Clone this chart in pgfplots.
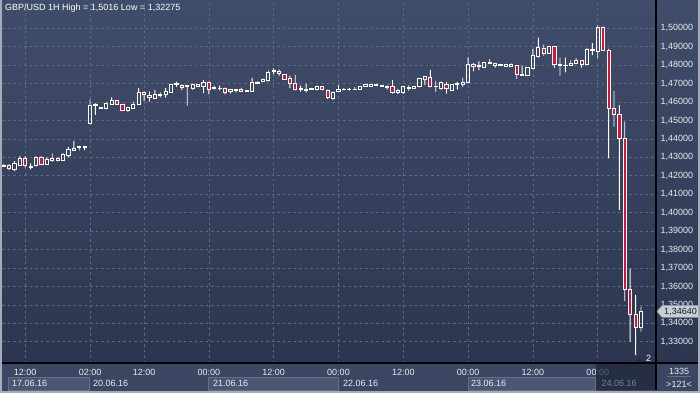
\documentclass[border=0pt]{standalone}
\usepackage{pgfplots}
\pgfplotsset{compat=1.18}
\usepackage{pgfplotstable}
\usepackage{fontspec}
\setmainfont{Liberation Sans}
\definecolor{bgtop}{RGB}{64,77,106}
\definecolor{bgbot}{RGB}{44,54,80}
\definecolor{strip}{RGB}{58,70,98}
\definecolor{gridc}{RGB}{92,105,135}
\definecolor{cred}{RGB}{222,18,48}
\definecolor{lbl}{RGB}{232,236,242}
\definecolor{datebox}{RGB}{74,86,114}
\definecolor{dateline}{RGB}{98,111,140}
\definecolor{framec}{RGB}{165,172,185}
\definecolor{tagc}{RGB}{200,205,214}
\definecolor{tagline}{RGB}{140,147,160}
\definecolor{tagtext}{RGB}{25,25,30}
\definecolor{shadec}{RGB}{30,37,55}
\definecolor{greytext}{RGB}{120,130,150}
\definecolor{tric}{RGB}{38,46,64}

\pgfplotstableread{
k O H L C
0 1.4253 1.4262 1.4248 1.4256
1 1.4257 1.4264 1.4231 1.4239
2 1.4237 1.4280 1.4225 1.4266
3 1.4258 1.4307 1.4255 1.4295
4 1.4295 1.4307 1.4245 1.4255
5 1.4248 1.4267 1.4235 1.4252
6 1.4255 1.4307 1.4250 1.4300
7 1.4300 1.4305 1.4258 1.4264
8 1.4264 1.4300 1.4258 1.4289
9 1.4282 1.4322 1.4275 1.4293
10 1.4295 1.4300 1.4278 1.4284
11 1.4282 1.4325 1.4282 1.4316
12 1.4313 1.4355 1.4300 1.4345
13 1.4338 1.4389 1.4336 1.4349
14 1.4352 1.4362 1.4338 1.4361
15 1.4356 1.4362 1.4340 1.4361
16 1.4485 1.4615 1.4480 1.4580
17 1.4582 1.4593 1.4530 1.4586
18 1.4565 1.4571 1.4562 1.4569
19 1.4563 1.4600 1.4560 1.4594
20 1.4589 1.4625 1.4586 1.4609
21 1.4609 1.4611 1.4586 1.4588
22 1.4588 1.4590 1.4551 1.4553
23 1.4557 1.4572 1.4548 1.4569
24 1.4566 1.4602 1.4563 1.4588
25 1.4588 1.4675 1.4584 1.4653
26 1.4653 1.4657 1.4606 1.4639
27 1.4637 1.4657 1.4602 1.4626
28 1.4620 1.4666 1.4617 1.4639
29 1.4635 1.4653 1.4624 1.4642
30 1.4642 1.4675 1.4624 1.4657
31 1.4653 1.4700 1.4651 1.4696
32 1.4693 1.4711 1.4682 1.4700
33 1.4689 1.4696 1.4666 1.4678
34 1.4682 1.4689 1.4581 1.4689
35 1.4675 1.4700 1.4667 1.4696
36 1.4696 1.4697 1.4686 1.4686
37 1.4686 1.4720 1.4648 1.4704
38 1.4707 1.4711 1.4642 1.4671
39 1.4675 1.4689 1.4667 1.4678
40 1.4673 1.4689 1.4664 1.4675
41 1.4675 1.4678 1.4642 1.4653
42 1.4660 1.4666 1.4646 1.4666
43 1.4662 1.4667 1.4653 1.4667
44 1.4667 1.4678 1.4655 1.4657
45 1.4657 1.4662 1.4657 1.4662
46 1.4660 1.4733 1.4657 1.4704
47 1.4703 1.4712 1.4700 1.4708
48 1.4711 1.4727 1.4709 1.4725
49 1.4718 1.4772 1.4711 1.4761
50 1.4765 1.4783 1.4751 1.4772
51 1.4765 1.4776 1.4743 1.4754
52 1.4751 1.4751 1.4722 1.4725
53 1.4729 1.4743 1.4675 1.4700
54 1.4700 1.4747 1.4664 1.4667
55 1.4668 1.4689 1.4657 1.4675
56 1.4664 1.4700 1.4653 1.4667
57 1.4671 1.4677 1.4668 1.4675
58 1.4667 1.4689 1.4664 1.4682
59 1.4682 1.4684 1.4664 1.4667
60 1.4664 1.4667 1.4617 1.4624
61 1.4620 1.4657 1.4613 1.4653
62 1.4660 1.4693 1.4657 1.4669
63 1.4668 1.4675 1.4664 1.4669
64 1.4668 1.4675 1.4664 1.4669
65 1.4668 1.4682 1.4668 1.4671
66 1.4667 1.4682 1.4667 1.4682
67 1.4686 1.4695 1.4684 1.4693
68 1.4693 1.4698 1.4684 1.4687
69 1.4688 1.4695 1.4686 1.4693
70 1.4686 1.4691 1.4682 1.4689
71 1.4681 1.4690 1.4668 1.4683
72 1.4686 1.4719 1.4646 1.4650
73 1.4654 1.4672 1.4643 1.4661
74 1.4654 1.4686 1.4646 1.4682
75 1.4672 1.4690 1.4661 1.4679
76 1.4675 1.4688 1.4673 1.4686
77 1.4682 1.4729 1.4679 1.4726
78 1.4722 1.4740 1.4692 1.4737
79 1.4733 1.4773 1.4679 1.4682
80 1.4682 1.4715 1.4654 1.4686
81 1.4672 1.4711 1.4668 1.4708
82 1.4697 1.4708 1.4646 1.4672
83 1.4664 1.4697 1.4661 1.4693
84 1.4693 1.4708 1.4668 1.4700
85 1.4697 1.4733 1.4682 1.4708
86 1.4704 1.4842 1.4701 1.4805
87 1.4805 1.4813 1.4766 1.4795
88 1.4795 1.4820 1.4773 1.4798
89 1.4787 1.4818 1.4786 1.4816
90 1.4809 1.4834 1.4809 1.4816
91 1.4809 1.4813 1.4787 1.4798
92 1.4802 1.4803 1.4797 1.4798
93 1.4795 1.4804 1.4794 1.4802
94 1.4795 1.4809 1.4794 1.4802
95 1.4801 1.4802 1.4726 1.4750
96 1.4747 1.4798 1.4743 1.4751
97 1.4745 1.4787 1.4743 1.4787
98 1.4783 1.4888 1.4779 1.4852
99 1.4845 1.4949 1.4841 1.4895
100 1.4892 1.4913 1.4852 1.4866
101 1.4863 1.4904 1.4862 1.4902
102 1.4902 1.4902 1.4787 1.4805
103 1.4798 1.4841 1.4743 1.4805
104 1.4798 1.4841 1.4761 1.4801
105 1.4801 1.4826 1.4798 1.4812
106 1.4812 1.4837 1.4808 1.4823
107 1.4823 1.4823 1.4787 1.4805
108 1.4805 1.4892 1.4801 1.4884
109 1.4881 1.4920 1.4855 1.4884
110 1.4877 1.5016 1.4837 1.5007
111 1.5007 1.5009 1.4877 1.4881
112 1.4881 1.4888 1.4295 1.4566
113 1.4566 1.4660 1.4467 1.4534
114 1.4534 1.4584 1.4015 1.4403
115 1.4403 1.4494 1.3521 1.3586
116 1.3586 1.3695 1.3301 1.3449
117 1.3449 1.3554 1.32275 1.3379
118 1.3379 1.3490 1.3355 1.3464
}\candles

\begin{document}
\begin{tikzpicture}[x=1pt,y=1pt]
\useasboundingbox (0,0) rectangle (700,393);
\shade[top color=bgtop, bottom color=bgbot] (0,30) rectangle (700,393);
\fill[strip] (0,0) rectangle (700,30);
\filldraw[fill=datebox, draw=dateline, line width=0.6pt] (8,3) rectangle (89,16);
\filldraw[fill=datebox, draw=dateline, line width=0.6pt] (208,3) rectangle (338,16);
\filldraw[fill=datebox, draw=dateline, line width=0.6pt] (468,3) rectangle (595,16);
\begin{axis}[
  at={(2pt,30pt)}, anchor=south west, scale only axis,
  width=653pt, height=363pt,
  xmin=-0.3, xmax=120.6, ymin=1.31849, ymax=1.51535,
  ybar stacked,
  axis line style={draw=none},
  major tick length=0pt,
  xtick={4,16,26,38,50,62,74,86,98,110},
  xticklabels={12:00,02:00,12:00,00:00,12:00,00:00,12:00,00:00,12:00,00:00},
  ytick={1.33,1.34,1.35,1.36,1.37,1.38,1.39,1.40,1.41,1.42,1.43,1.44,1.45,1.46,1.47,1.48,1.49,1.50},
  yticklabel pos=right,
  scaled y ticks=false,
  grid=major,
  major grid style={gridc, dash pattern=on 2.5pt off 3pt, line width=0.7pt},
  tick label style={font=\fontsize{9}{10}\selectfont, text=lbl},
  xticklabel style={yshift=-2.5pt},
  yticklabel style={anchor=west, xshift=2pt,
    /pgf/number format/fixed, /pgf/number format/fixed zerofill,
    /pgf/number format/precision=5, /pgf/number format/use comma,
    /pgf/number format/assume math mode=true},
]
\addplot[draw=none, fill=none, bar width=1pt] table[x=k, y=L]{\candles};
\addplot[draw=none, fill=white, bar width=0.9pt] table[x=k, y expr={min(\thisrow{O},\thisrow{C})-\thisrow{L}}]{\candles};
\addplot[draw=white, fill=none, line width=0.9pt, bar width=3.2pt] table[x=k, y expr={max(\thisrow{C}-\thisrow{O},0)}]{\candles};
\addplot[draw=white, fill=cred, line width=0.9pt, bar width=3.2pt] table[x=k, y expr={max(\thisrow{O}-\thisrow{C},0)}]{\candles};
\addplot[draw=none, fill=white, bar width=0.9pt] table[x=k, y expr={\thisrow{H}-max(\thisrow{O},\thisrow{C})}]{\candles};
\end{axis}
% title
\node[anchor=west, text=white, font=\fontsize{9}{10}\selectfont, inner sep=0pt] at (5,384.7) {GBP/USD 1H High = 1,5016 Low = 1,32275};
% date labels
\begin{scope}[every node/.style={anchor=west, text=lbl, font=\fontsize{9}{10}\selectfont, inner sep=0pt}]
\node at (12,9.6) {17.06.16};
\node at (93,9.6) {20.06.16};
\node at (213,9.6) {21.06.16};
\node at (343,9.6) {22.06.16};
\node at (471,9.6) {23.06.16};
\end{scope}
% highlighted last day
\fill[shadec, opacity=0.72] (596,3) rectangle (656,29);
\node[anchor=west, text=greytext, font=\fontsize{9}{10}\selectfont, inner sep=0pt] at (601.5,9.6) {24.06.16};
% separators
\draw[black, line width=1.2pt] (2,30) -- (698,30);
\draw[black, line width=1.2pt] (656,3) -- (656,393);
% corner box
\node[text=lbl, font=\fontsize{9}{10}\selectfont, inner sep=0pt] at (679,22) {1335};
\draw[dateline, line width=0.6pt] (667,16.5) -- (691,16.5);
\node[text=lbl, font=\fontsize{9}{10}\selectfont, inner sep=0pt] at (679,9) {>121<};
% price tag
\filldraw[fill=tagc, draw=tagline, line width=0.5pt] (657,81.5) -- (662,87.5) -- (699,87.5) -- (699,75.5) -- (662,75.5) -- cycle;
\node[text=tagtext, font=\fontsize{9}{10}\selectfont, inner sep=0pt] at (680.5,81.5) {1,34640};
% marker near bottom
\fill[tric] (636,31.5) -- (642,31.5) -- (639,36) -- cycle;
\node[text=white, font=\fontsize{9}{10}\selectfont, inner sep=0pt] at (648.5,34.5) {2};
% outer frame
\fill[framec] (0,0) rectangle (2,393);
\fill[framec] (0,0) rectangle (700,2.5);
\fill[framec] (698,0) rectangle (700,393);
\end{tikzpicture}
\end{document}
